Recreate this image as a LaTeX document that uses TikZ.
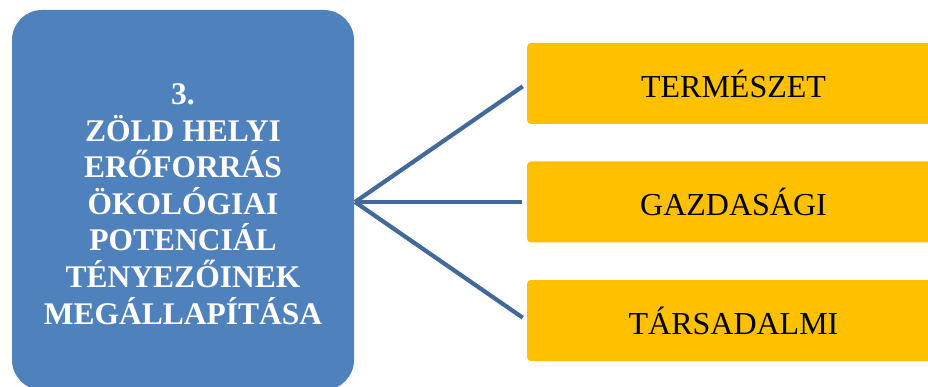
\documentclass[tikz,border=0pt]{standalone}
\usepackage{fontspec}
\setmainfont{Liberation Serif}
\usepackage{tikz}
\usetikzlibrary{positioning, calc}
\definecolor{myblue}{HTML}{4F81BD}
\definecolor{mylineblue}{HTML}{41699A}
\definecolor{myyellow}{HTML}{FFC000}
\tikzset{
	mainnode/.style={
			rectangle,
			rounded corners=30pt,
			fill=myblue,
			draw=none,
			minimum width=342pt,
			minimum height=380pt,
			inner sep=0pt
		},
	maintext/.style={
			text=white,
			font=\bfseries\fontsize{31.5}{36.6}\selectfont,
			align=center,
			inner sep=0pt
		},
	factornode/.style={
			rectangle,
			rounded corners=4pt,
			fill=myyellow,
			draw=none,
			text=black,
			font=\fontsize{32}{38}\selectfont,
			minimum width=413pt,
			minimum height=81pt,
			inner sep=0pt
		},
	forkline/.style={
			draw=mylineblue,
			line width=4.2pt,
			shorten >=5pt
		}
}
\begin{document}
\begin{tikzpicture}[x=1pt, y=-1pt]
\useasboundingbox (0,0) rectangle (928,387);

\node[mainnode] (tMain) at (183,200) {};
\node[maintext] (tMainText) at ($(tMain.center)+(0,4)$) {3.\\ZÖLD HELYI\\ERŐFORRÁS\\ÖKOLÓGIAI\\POTENCIÁL\\TÉNYEZŐINEK\\MEGÁLLAPÍTÁSA};
\node[factornode] (tTerm) at (733.5,83.5) {TERMÉSZET};
\node[factornode] (tGazd) at (733.5,202) {GAZDASÁGI};
\node[factornode] (tTars) at (733.5,320.5) {TÁRSADALMI};

\coordinate (fork) at (355,202);

\draw[forkline] (fork) edge (tTerm.west);
\draw[forkline] (fork) edge (tGazd.west);
\draw[forkline] (fork) edge (tTars.west);

\end{tikzpicture}
\end{document}
